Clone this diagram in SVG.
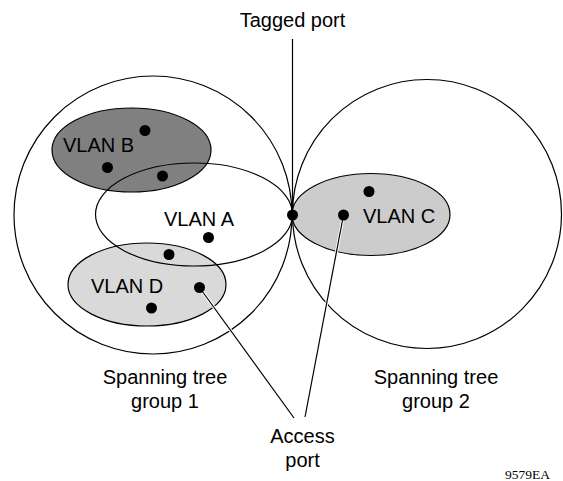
<svg xmlns="http://www.w3.org/2000/svg" width="563" height="481" viewBox="0 0 563 481">
  <style>
    .outline { fill: none; stroke: #000; stroke-width: 1.2; }
    .vlan { stroke: #000; stroke-width: 1.2; }
    .dot { fill: #000; }
    .lbl { font-family: "Liberation Sans", Arial, sans-serif; font-size: 20px; fill: #000; }
    .mid { text-anchor: middle; }
    .link { fill: none; stroke: #000; stroke-width: 1.2; }
    .halo { fill: none; stroke: #fff; stroke-width: 3; }
  </style>

  <rect width="563" height="481" fill="#fff"/>

  <!-- spanning tree groups -->
  <g id="stg1">
    <circle class="outline" cx="153" cy="215" r="139"/>
    <text class="lbl mid" x="165" y="384">Spanning tree</text>
    <text class="lbl mid" x="165" y="408">group 1</text>
  </g>
  <g id="stg2">
    <circle class="outline" cx="427" cy="214" r="134.5"/>
    <text class="lbl mid" x="436" y="384">Spanning tree</text>
    <text class="lbl mid" x="436" y="408">group 2</text>
  </g>

  <!-- VLANs -->
  <g id="vlanB">
    <ellipse class="vlan" cx="131.5" cy="150" rx="79.5" ry="42" fill="#808080"/>
    <text class="lbl" x="63" y="152">VLAN B</text>
    <circle class="dot" cx="145" cy="130.5" r="5.5"/>
    <circle class="dot" cx="107.5" cy="167.5" r="5.5"/>
  </g>
  <g id="vlanD">
    <ellipse class="vlan" cx="147" cy="284.5" rx="79" ry="41.5" fill="#d9d9d9"/>
    <text class="lbl" x="91" y="293">VLAN D</text>
    <circle class="dot" cx="151.5" cy="308" r="5.5"/>
  </g>
  <g id="vlanC">
    <ellipse class="vlan" cx="371" cy="214.5" rx="79" ry="41" fill="#cccccc"/>
    <text class="lbl" x="363" y="223">VLAN C</text>
    <circle class="dot" cx="369" cy="191.5" r="5.5"/>
  </g>
  <g id="vlanA">
    <ellipse class="outline" cx="194" cy="214.5" rx="98.5" ry="51.5"/>
    <text class="lbl" x="164" y="226">VLAN A</text>
    <circle class="dot" cx="162.5" cy="176" r="5.5"/>
    <circle class="dot" cx="208.5" cy="237.5" r="5.5"/>
    <circle class="dot" cx="169" cy="254.5" r="5.5"/>
  </g>

  <!-- port callouts -->
  <g id="connectors">
    <line class="link" x1="292.5" y1="39" x2="292.5" y2="215"/>
    <line class="halo" x1="199.5" y1="287.5" x2="294" y2="418"/>
    <line class="link" x1="199.5" y1="287.5" x2="294" y2="418"/>
    <line class="halo" x1="343.5" y1="215" x2="305" y2="417"/>
    <line class="link" x1="343.5" y1="215" x2="305" y2="417"/>
  </g>

  <g id="taggedPort">
    <circle class="dot" cx="292.5" cy="215" r="5.5"/>
    <text class="lbl mid" x="292.5" y="26.5">Tagged port</text>
  </g>
  <g id="accessPorts">
    <circle class="dot" cx="199.5" cy="287.5" r="5.5"/>
    <circle class="dot" cx="343.5" cy="215" r="5.5"/>
    <text class="lbl mid" x="302.5" y="442.5">Access</text>
    <text class="lbl mid" x="302.5" y="466.5">port</text>
  </g>

  <text x="550" y="478.5" font-family="Liberation Serif, 'Times New Roman', serif" font-size="13.5" text-anchor="end">9579EA</text>
</svg>
